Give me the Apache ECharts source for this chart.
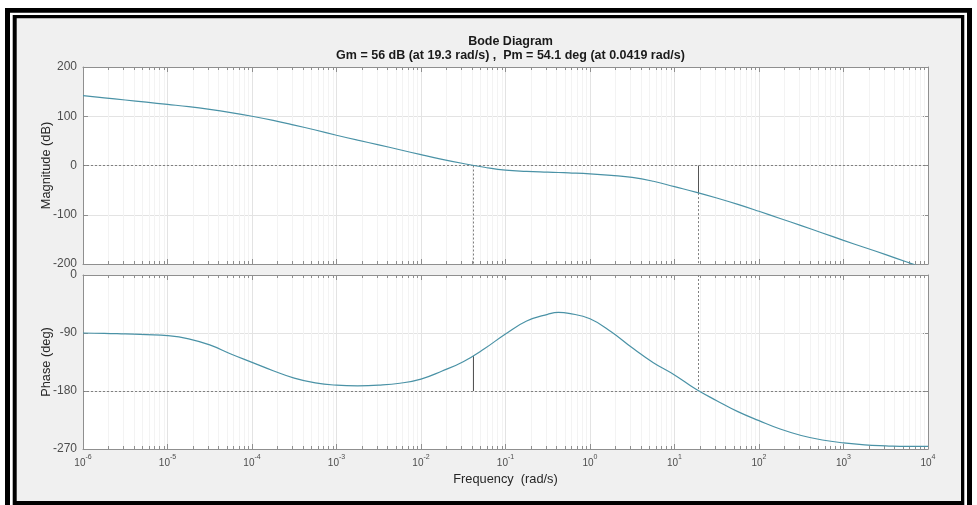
<!DOCTYPE html>
<html><head><meta charset="utf-8">
<script src="https://cdn.jsdelivr.net/npm/echarts@6/dist/echarts.min.js"></script>
<style>html,body{margin:0;padding:0;background:#fff}#c{width:977px;height:505px}</style>
</head><body><div id="c"></div>
<script>
// ---------- data ----------
// frequencies in rad/s, roughly one point every quarter decade from 1e-6 to 1e4
const freq = [1e-6, 1.78e-6, 3.16e-6, 5.62e-6, 1e-5, 1.78e-5, 3.16e-5, 5.62e-5, 1e-4, 1.78e-4, 3.16e-4, 5.62e-4,
  1e-3, 1.78e-3, 3.16e-3, 5.62e-3, 1e-2, 1.78e-2, 3.16e-2, 5.62e-2, 0.1, 0.178, 0.316, 0.422, 0.562,
  1, 1.78, 3.16, 5.62, 10, 17.8, 31.6, 56.2, 100, 178, 316, 562, 1000, 1778, 3162, 5623, 10000];
const magDb = [142, 137.5, 133, 128.5, 124, 119.5, 114, 107.5, 100, 91.5, 82, 72,
  61.5, 51.5, 42, 32, 22, 12.5, 4, -3.5, -9.5, -12, -13.5, -14.2, -15,
  -17, -20, -24, -32, -43, -54, -66, -79, -93, -107.5, -122, -137, -152, -166.5, -181, -196, -211];
const phaseDeg = [-90, -90.5, -91.5, -92.5, -94, -99, -108.5, -122.5, -135.5, -148.5, -160, -167.5,
  -171, -172, -171, -168, -161.5, -149, -134.5, -114.5, -91.5, -71.5, -61, -58, -59.5,
  -68, -88, -113, -136, -155, -177, -195, -212, -226, -239, -249, -256, -260.5, -263.5, -265, -266, -266];
const decadeExponents = [-6, -5, -4, -3, -2, -1, 0, 1, 2, 3, 4];
const minorMultipliers = [2, 3, 4, 5, 6, 7, 8, 9];
const magTicks = [-200, -100, 0, 100, 200];
const phaseTicks = [-270, -180, -90, 0];
const gainMarginDb = 56, gainMarginFreq = 19.3;
const phaseMarginDeg = 54.1, phaseMarginFreq = 0.0419;
const titleText = 'Bode Diagram';
const subtitleText = 'Gm = 56 dB (at 19.3 rad/s) ,  Pm = 54.1 deg (at 0.0419 rad/s)';
const magName = 'Magnitude (dB)';
const phaseName = 'Phase (deg)';
const freqName = 'Frequency  (rad/s)';

// ---------- helpers ----------
const FONT = '"Liberation Sans", Arial, Helvetica, sans-serif';
const xMin = Math.pow(10, decadeExponents[0]);
const xMax = Math.pow(10, decadeExponents[decadeExponents.length - 1]);
const minorFreqs = [];
decadeExponents.slice(0, -1).forEach(e => minorMultipliers.forEach(m => minorFreqs.push(m * Math.pow(10, e))));
const AX = '#8f8f8f';
const GRIDC = '#e3e3e3';
const MINORC = '#f3f3f3';
const LINEC = '#4a92a6';
const LBL = '#4d4d4d';

function pairs(xs, ys) { return xs.map((x, i) => [x, ys[i]]); }

function minorSeries(gridIdx, yVal) {
  return {
    type: 'custom', xAxisIndex: gridIdx * 2, yAxisIndex: gridIdx * 2, z: 1, silent: true,
    data: minorFreqs.map(f => [f, yVal]),
    renderItem: function (params, api) {
      const p = api.coord([api.value(0), api.value(1)]);
      const cs = params.coordSys;
      const x = Math.round(p[0]) + 0.5;
      const y0 = cs.y, y1 = cs.y + cs.height;
      return { type: 'group', children: [
        { type: 'line', shape: { x1: x, y1: y0, x2: x, y2: y1 }, style: { stroke: MINORC, lineWidth: 1 } },
        { type: 'line', shape: { x1: x, y1: y1, x2: x, y2: y1 - 3 }, style: { stroke: AX, lineWidth: 1 } },
        { type: 'line', shape: { x1: x, y1: y0, x2: x, y2: y0 + 3 }, style: { stroke: AX, lineWidth: 1 } }
      ]};
    }
  };
}

function xAxes(gridIdx, showLabels) {
  const base = {
    type: 'log', logBase: 10, gridIndex: gridIdx, min: xMin, max: xMax, interval: 1, splitNumber: 10,
    axisLine: { show: true, onZero: false, lineStyle: { color: AX, width: 1 } },
    axisTick: { show: true, inside: true, length: 5, lineStyle: { color: AX } },
    minorTick: { show: false }
  };
  return [
    Object.assign({}, base, {
      position: 'bottom',
      splitLine: { show: true, lineStyle: { color: GRIDC, width: 1 } },
      axisLabel: showLabels ? {
        show: true, margin: 5, color: LBL, fontFamily: FONT,
        formatter: v => '{b|10}{s|' + Math.round(Math.log10(v)) + '}',
        rich: {
          b: { fontSize: 10, fontFamily: FONT, color: LBL, lineHeight: 14, verticalAlign: 'bottom' },
          s: { fontSize: 7, fontFamily: FONT, color: LBL, lineHeight: 8, verticalAlign: 'top' }
        }
      } : { show: false },
      name: showLabels ? freqName : '', nameLocation: 'middle', nameGap: 23.5, nameMoveOverlap: false,
      nameTextStyle: { fontSize: 12.8, fontFamily: FONT, color: '#262626' }
    }),
    Object.assign({}, base, {
      position: 'top', splitLine: { show: false }, axisLabel: { show: false }
    })
  ];
}

function yAxes(gridIdx, ticks, name) {
  const mn = ticks[0], mx = ticks[ticks.length - 1], iv = ticks[1] - ticks[0];
  const base = {
    type: 'value', gridIndex: gridIdx, min: mn, max: mx, interval: iv,
    axisLine: { show: true, onZero: false, lineStyle: { color: AX } },
    axisTick: { show: true, inside: true, length: 5, lineStyle: { color: AX } }
  };
  return [
    Object.assign({}, base, {
      position: 'left',
      splitLine: { show: true, lineStyle: { color: GRIDC } },
      axisLabel: { show: true, margin: 6, fontSize: 12, fontFamily: FONT, color: LBL },
      name: name, nameLocation: 'middle', nameGap: 30, nameRotate: 90, nameMoveOverlap: false,
      nameTextStyle: { fontSize: 12.8, fontFamily: FONT, color: '#262626' }
    }),
    Object.assign({}, base, {
      position: 'right', splitLine: { show: false }, axisLabel: { show: false }
    })
  ];
}

const dotted = { color: '#808080', width: 1, type: [2, 2] };
const solidM = { color: '#555555', width: 1, type: 'solid' };

const option = {
  animation: false,
  backgroundColor: '#ffffff',
  textStyle: { fontFamily: FONT },
  graphic: [
    { type: 'rect', z: -100, silent: true, shape: { x: 5, y: 8, width: 967, height: 497 }, style: { fill: '#000' } },
    { type: 'rect', z: -99, silent: true, shape: { x: 10, y: 12.7, width: 957, height: 492.3 }, style: { fill: '#fff' } },
    { type: 'rect', z: -98, silent: true, shape: { x: 12.7, y: 15, width: 951.6, height: 490 }, style: { fill: '#000' } },
    { type: 'rect', z: -97, silent: true, shape: { x: 16.7, y: 18.3, width: 944.3, height: 482.7 }, style: { fill: '#f0f0f0' } }
  ],
  title: [
    { text: titleText, left: 505.5, top: 30.5, textAlign: 'center',
      textStyle: { fontSize: 12.5, fontWeight: 'bold', color: '#1a1a1a', fontFamily: FONT } },
    { text: subtitleText, left: 505.5, top: 44.5, textAlign: 'center',
      textStyle: { fontSize: 12.5, fontWeight: 'bold', color: '#1a1a1a', fontFamily: FONT } }
  ],
  grid: [
    { left: 83, top: 67, width: 845, height: 197, show: true, backgroundColor: '#ffffff', borderWidth: 0 },
    { left: 83, top: 275, width: 845, height: 174, show: true, backgroundColor: '#ffffff', borderWidth: 0 }
  ],
  xAxis: [].concat(xAxes(0, false), xAxes(1, true)),
  yAxis: [].concat(yAxes(0, magTicks, magName), yAxes(1, phaseTicks, phaseName)),
  series: [
    minorSeries(0, 0),
    minorSeries(1, -90),
    {
      type: 'line', xAxisIndex: 0, yAxisIndex: 0, data: pairs(freq, magDb),
      showSymbol: false, smooth: 0.45, clip: true, z: 5,
      lineStyle: { color: LINEC, width: 1.2 },
      markLine: {
        silent: true, symbol: 'none', label: { show: false }, animation: false,
        data: [
          [{ coord: [xMin, 0], lineStyle: dotted }, { coord: [xMax, 0] }],
          [{ coord: [phaseMarginFreq, 0], lineStyle: dotted }, { coord: [phaseMarginFreq, magTicks[0]] }],
          [{ coord: [gainMarginFreq, -gainMarginDb], lineStyle: dotted }, { coord: [gainMarginFreq, magTicks[0]] }],
          [{ coord: [gainMarginFreq, 0], lineStyle: solidM }, { coord: [gainMarginFreq, -gainMarginDb] }]
        ]
      }
    },
    {
      type: 'line', xAxisIndex: 2, yAxisIndex: 2, data: pairs(freq, phaseDeg),
      showSymbol: false, smooth: 0.45, clip: true, z: 5,
      lineStyle: { color: LINEC, width: 1.2 },
      markLine: {
        silent: true, symbol: 'none', label: { show: false }, animation: false,
        data: [
          [{ coord: [xMin, -180], lineStyle: dotted }, { coord: [xMax, -180] }],
          [{ coord: [gainMarginFreq, 0], lineStyle: dotted }, { coord: [gainMarginFreq, -180] }],
          [{ coord: [phaseMarginFreq, -180], lineStyle: solidM }, { coord: [phaseMarginFreq, -180 + phaseMarginDeg] }]
        ]
      }
    }
  ]
};

const chart = echarts.init(document.getElementById('c'), null, { renderer: 'canvas' });
chart.setOption(option);
</script>
</body></html>
